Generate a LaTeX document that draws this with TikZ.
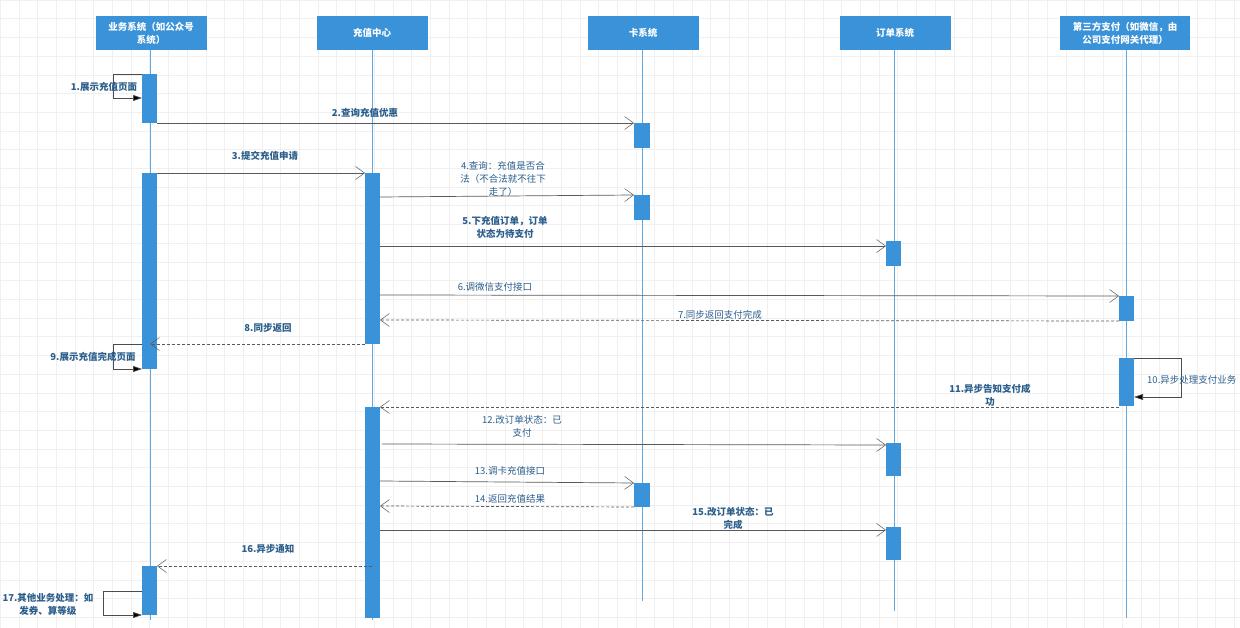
\documentclass[tikz,border=0pt]{standalone}
\usepackage{fontspec}
\setmainfont{Noto Sans CJK SC}
\usetikzlibrary{arrows.meta}
\definecolor{bl}{HTML}{3A92D8}
\definecolor{tx}{HTML}{2C5E8C}
\tikzset{
 hd/.style={fill=bl,text=white,minimum width=111pt,minimum height=34pt,align=center,font=\fontsize{9.5}{13}\selectfont\bfseries,inner sep=1pt},
 life/.style={draw=bl!80,line width=0.7pt},
 act/.style={fill=bl},
 msg/.style={draw=black!65,line width=0.7pt,-{Straight Barb[length=9pt,width=13pt,line width=0.5pt]}},
 ret/.style={msg,dashed,dash pattern=on 3pt off 2pt},
 self/.style={draw=black!70,line width=0.7pt,-{Triangle[length=9pt,width=6pt,fill=black]}},
 lb/.style={text=tx,font=\fontsize{9.5}{13}\selectfont,align=center,inner sep=1pt},
 lbb/.style={lb,font=\fontsize{9.5}{13}\selectfont\bfseries},
}
\begin{document}
\begin{tikzpicture}[x=1pt,y=-1pt]
\useasboundingbox (0,0) rectangle (1240,628);
\fill[white] (0,0) rectangle (1240,628);
\foreach \i in {0,...,66} \draw[black!6,line width=0.4pt] (\i*18.7,0) -- (\i*18.7,628);
\foreach \i in {0,...,33} \draw[black!6,line width=0.4pt] (0,\i*18.7) -- (1240,\i*18.7);
% lifelines
\draw[life] (150,50) -- (150,620);
\draw[life] (372,50) -- (372,620);
\draw[life] (642,50) -- (642,601);
\draw[life] (894,50) -- (894,611);
\draw[life] (1126,50) -- (1126,618);
\node[hd] (A) at (151,33) {业务系统（如公众号\\系统）};
\node[hd] (B) at (372,33) {充值中心};
\node[hd] (C) at (643,33) {卡系统};
\node[hd] (D) at (895,33) {订单系统};
\node[hd,minimum width=130pt] (E) at (1125,33) {第三方支付（如微信，由\\公司支付网关代理）};
% activations
\fill[act] (142,74) rectangle (157,123);
\fill[act] (142,173) rectangle (157,369);
\fill[act] (142,566) rectangle (157,615);
\fill[act] (365,173) rectangle (380,344);
\fill[act] (365,407) rectangle (380,618);
\fill[act] (634,123) rectangle (650,148);
\fill[act] (634,195) rectangle (650,220);
\fill[act] (634,483) rectangle (650,507);
\fill[act] (886,241) rectangle (901,266);
\fill[act] (886,443) rectangle (901,476);
\fill[act] (886,527) rectangle (901,560);
\fill[act] (1119,296) rectangle (1134,321);
\fill[act] (1119,358) rectangle (1134,406);
% coordinates
\coordinate (s1) at (142,74); \coordinate (e1) at (142,98);
\coordinate (s9) at (142,344); \coordinate (e9) at (142,369);
\coordinate (s10) at (1134,358); \coordinate (e10) at (1134,397);
\coordinate (s17) at (142,591); \coordinate (e17) at (142,615);
% messages
\draw[self] (s1) -- (113,74) -- (113,98) -- (e1);
\node[lbb] (l1) at (104,87) {1.展示充值页面};
\coordinate (a2) at (157,123); \coordinate (b2) at (634,123);
\draw[msg] (a2) -- (b2); \node[lbb] (l2) at (365,113) {2.查询充值优惠};
\coordinate (a3) at (157,173); \coordinate (b3) at (365,173);
\draw[msg] (a3) -- (b3); \node[lbb] (l3) at (265,156) {3.提交充值申请};
\coordinate (a4) at (380,197); \coordinate (b4) at (634,195);
\draw[msg] (a4) -- (b4); \node[lb] (l4) at (503,179) {4.查询：充值是否合\\法（不合法就不往下\\走了）};
\coordinate (a5) at (380,246); \coordinate (b5) at (886,246);
\draw[msg] (a5) -- (b5); \node[lbb] (l5) at (505,227) {5.下充值订单，订单\\状态为待支付};
\coordinate (a6) at (380,295); \coordinate (b6) at (1119,296);
\draw[msg] (a6) -- (b6); \node[lb] (l6) at (495,287) {6.调微信支付接口};
\coordinate (a7) at (1119,321); \coordinate (b7) at (380,320);
\draw[ret] (a7) -- (b7); \node[lb] (l7) at (720,315) {7.同步返回支付完成};
\coordinate (a8) at (365,344); \coordinate (b8) at (150,344);
\draw[ret] (a8) -- (b8); \node[lbb] (l8) at (268,328) {8.同步返回};
\draw[self] (s9) -- (113,344) -- (113,369) -- (e9);
\node[lbb] (l9) at (93,357) {9.展示充值完成页面};
\draw[self] (s10) -- (1181,358) -- (1181,397) -- (e10);
\node[lb,anchor=west] (l10) at (1146,380) {10.异步处理支付业务};
\coordinate (a11) at (1119,407); \coordinate (b11) at (380,407);
\draw[ret] (a11) -- (b11); \node[lbb] (l11) at (990,395) {11.异步告知支付成\\功};
\coordinate (a12) at (382,444); \coordinate (b12) at (886,445);
\draw[msg] (a12) -- (b12); \node[lb] (l12) at (522,426) {12.改订单状态：已\\支付};
\coordinate (a13) at (380,481); \coordinate (b13) at (634,483);
\draw[msg] (a13) -- (b13); \node[lb] (l13) at (510,471) {13.调卡充值接口};
\coordinate (a14) at (634,507); \coordinate (b14) at (380,506);
\draw[ret] (a14) -- (b14); \node[lb] (l14) at (510,499) {14.返回充值结果};
\coordinate (a15) at (380,530); \coordinate (b15) at (886,530);
\draw[msg] (a15) -- (b15); \node[lbb] (l15) at (733,518) {15.改订单状态：已\\完成};
\coordinate (a16) at (372,566); \coordinate (b16) at (157,566);
\draw[ret] (a16) -- (b16); \node[lbb] (l16) at (268,549) {16.异步通知};
\draw[self] (s17) -- (103,591) -- (103,615) -- (e17);
\node[lbb] (l17) at (48,604) {17.其他业务处理：如\\发券、算等级};
\end{tikzpicture}
\end{document}
